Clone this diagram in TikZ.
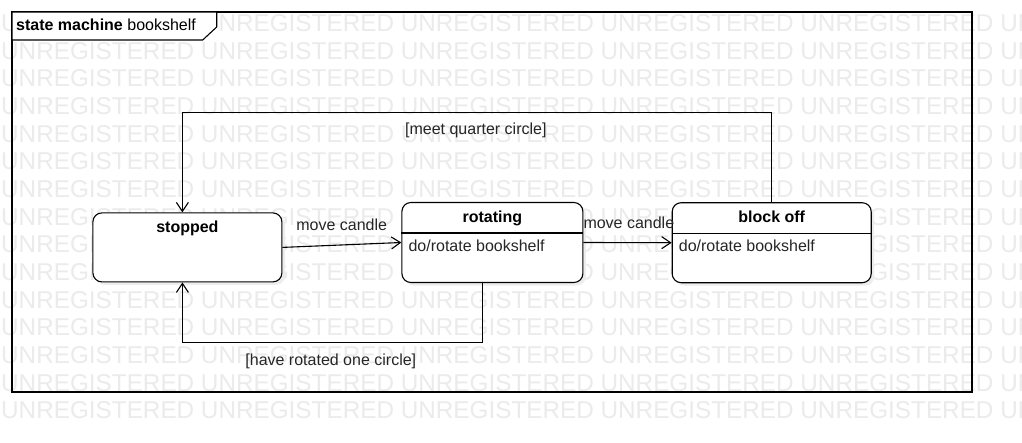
\documentclass[tikz,border=0pt]{standalone}
\usepackage{fontspec}
\setmainfont{Liberation Sans}
\usetikzlibrary{arrows.meta,positioning,shadows}
\tikzset{
  statebox/.style={draw,line width=1.1pt,rounded corners=9pt,fill=white,
    drop shadow={fill=black!7,opacity=1,shadow xshift=3pt,shadow yshift=-3pt}},
  trans/.style={line width=1.1pt,-{Straight Barb[length=9pt,width=12pt,line width=1.1pt]}},
  lbl/.style={text=black!85,inner sep=0pt,anchor=base,font=\fontsize{16}{19}\selectfont},
  statename/.style={lbl,text=black,font=\fontsize{16}{19}\selectfont\bfseries},
  wm/.style={text=black!8,inner sep=0pt,anchor=west,font=\fontsize{24.3}{28}\selectfont}
}
\begin{document}
\begin{tikzpicture}[x=1pt,y=-1pt]
    \def\topy{112.7}; \def\boty{342.3}; \def\divy{31pt}; \def\doy{49.5pt};

    \clip (0,0) rectangle (1022,442);
    \fill[white] (0,0) rectangle (1022,442);
    \foreach \r in {0,...,14}
      \node[wm] (wm\r) at (1,23.3+27.65*\r) {UNREGISTERED UNREGISTERED UNREGISTERED UNREGISTERED UNREGISTERED UNREGISTERED};

    \draw[line width=1.1pt] (12,12) rectangle (972,392);
    \draw[line width=1.1pt,fill=white] (12,12) -- (216.7,12) -- (216.7,27) -- (202.7,40) -- (12,40) -- cycle;
    \node[lbl,anchor=base west,text=black] (frametitle) at (16,30.7) {\textbf{state machine} bookshelf};

    \node[statebox,minimum width=189pt,minimum height=69pt] (stopped) at (187.4,247.4) {};
    \node[statebox,minimum width=181pt,minimum height=80pt] (rotating) at (492.4,242.5) {};
    \node[statebox,minimum width=199pt,minimum height=80pt] (blockoff) at (771.7,242.7) {};

    \node[statename] (stoppedname) at ([yshift=-20.6pt]stopped.north) {stopped};
    \node[statename] (rotatingname) at ([yshift=-20.6pt]rotating.north) {rotating};
    \node[statename] (blockoffname) at ([yshift=-20.6pt]blockoff.north) {block off};

    \draw[line width=1.1pt] ([yshift=-\divy]rotating.north west) -- ([yshift=-\divy]rotating.north east);
    \draw[line width=1.1pt] ([yshift=-\divy]blockoff.north west) -- ([yshift=-\divy]blockoff.north east);
    \node[lbl,anchor=base west] (rotatingdo) at ([xshift=7pt,yshift=-\doy]rotating.north west) {do/rotate bookshelf};
    \node[lbl,anchor=base west] (blockoffdo) at ([xshift=7pt,yshift=-\doy]blockoff.north west) {do/rotate bookshelf};

    \coordinate (topbend) at (0,\topy); \coordinate (botbend) at (0,\boty);
    \coordinate (stoptop) at ([xshift=-5pt]stopped.north);
    \coordinate (stopbot) at ([xshift=-5pt]stopped.south);
    \coordinate (rotout) at ([xshift=-10pt]rotating.south);

    \draw[trans] (stopped.east) -- (rotating.west);
    \draw[trans] (rotating.east) -- (blockoff.west);
    \draw[trans] (blockoff.north) -- (blockoff.north |- topbend) -| (stoptop);
    \draw[trans] (rotout) -- (rotout |- botbend) -| (stopbot);

    \node[lbl] (candleone) at (341.7,230) {move candle};
    \node[lbl,anchor=base west] (candletwo) at (583.3,228.3) {move candle};
    \node[lbl] (meet) at (475.8,134.3) {[meet quarter circle]};
    \node[lbl] (rotated) at (330.8,365) {[have rotated one circle]};
\end{tikzpicture}
\end{document}
